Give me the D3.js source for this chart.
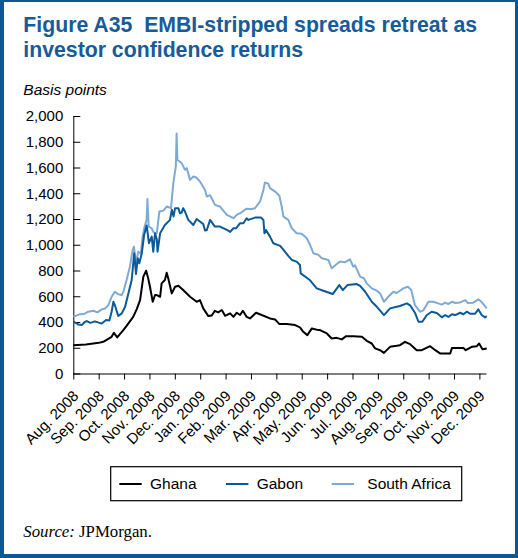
<!DOCTYPE html>
<html>
<head>
<meta charset="utf-8">
<script src="https://cdn.jsdelivr.net/npm/d3@7"></script>
<style>
  html, body { margin: 0; padding: 0; background: #fff; }
  svg { display: block; }
</style>
</head>
<body>
<svg id="chart" width="518" height="558"></svg>
<script>
// Month tick labels (Aug 2008 .. Dec 2009), one tick per month
const months = ["Aug. 2008","Sep. 2008","Oct. 2008","Nov. 2008","Dec. 2008","Jan. 2009",
  "Feb. 2009","Mar. 2009","Apr. 2009","May. 2009","Jun. 2009","Jul. 2009","Aug. 2009",
  "Sep. 2009","Oct. 2009","Nov. 2009","Dec. 2009"];

const yTicks = [0,200,400,600,800,1000,1200,1400,1600,1800,2000];

// Series: [months since Aug 2008, spread in basis points]
const ghana = [[0,220],[0.5,226],[1.0,238],[1.18,246],[1.51,285],[1.6,316],[1.73,280],[1.97,337],[2.1,370],
  [2.36,440],[2.5,500],[2.63,570],[2.76,752],[2.87,798],[2.95,740],[3.02,674],[3.13,557],[3.22,610],[3.29,609],
  [3.42,596],[3.48,700],[3.61,726],[3.68,783],[3.74,739],[3.88,622],[4.01,674],[4.14,682],[4.33,648],[4.6,596],
  [4.86,557],[4.99,570],[5.12,506],[5.32,446],[5.45,450],[5.58,487],[5.71,475],[5.85,493],[5.98,448],[6.18,467],
  [6.31,440],[6.44,472],[6.57,454],[6.68,487],[6.83,440],[6.96,428],[7.2,472],[7.42,454],[7.75,428],[7.95,420],
  [8.12,384],[8.41,384],[8.74,376],[8.93,358],[9.06,324],[9.22,298],[9.4,350],[9.66,337],[9.72,337],[9.99,311],
  [10.18,272],[10.38,277],[10.58,265],[10.75,290],[11.03,290],[11.37,285],[11.56,254],[11.76,233],[11.89,195],
  [12.09,181],[12.24,160],[12.48,207],[12.74,215],[12.87,220],[13.07,246],[13.27,228],[13.53,181],[13.73,181],
  [14.06,212],[14.26,181],[14.45,156],[14.85,156],[14.92,199],[15.37,199],[15.46,181],[15.7,207],[15.9,212],
  [15.99,233],[16.12,189],[16.29,195]];

const gabon = [[0,402],[0.13,390],[0.2,380],[0.33,376],[0.45,400],[0.53,407],[0.65,395],[0.73,397],[0.85,405],
  [1.0,395],[1.12,389],[1.29,415],[1.42,412],[1.51,480],[1.58,557],[1.64,530],[1.77,446],[1.91,467],[2.04,518],
  [2.17,622],[2.3,726],[2.4,934],[2.47,773],[2.54,895],[2.6,856],[2.7,934],[2.79,1076],[2.89,1150],[2.98,1012],
  [3.09,1063],[3.15,946],[3.22,1089],[3.29,1040],[3.32,946],[3.42,1089],[3.61,1154],[3.81,1193],[3.88,1271],
  [3.95,1220],[4.01,1284],[4.14,1284],[4.2,1245],[4.27,1250],[4.33,1284],[4.4,1258],[4.53,1193],[4.73,1154],
  [4.86,1200],[4.99,1180],[5.12,1160],[5.19,1110],[5.26,1115],[5.39,1193],[5.58,1141],[5.65,1141],[5.78,1141],
  [6.05,1115],[6.18,1100],[6.31,1128],[6.41,1128],[6.57,1167],[6.7,1167],[6.83,1206],[6.9,1193],[7.16,1211],
  [7.39,1211],[7.49,1193],[7.53,1089],[7.59,1115],[7.75,1063],[7.88,1012],[8.15,991],[8.28,960],[8.47,913],
  [8.61,882],[8.8,869],[8.93,843],[8.96,778],[9.33,724],[9.59,661],[9.85,643],[10.22,617],[10.48,687],[10.62,648],
  [10.8,687],[11.17,695],[11.3,680],[11.5,635],[11.76,557],[11.96,518],[12.24,454],[12.48,506],[12.74,518],
  [12.87,524],[13.14,545],[13.27,530],[13.46,472],[13.6,402],[13.75,402],[13.93,454],[14.12,480],[14.32,470],
  [14.52,436],[14.65,454],[14.78,440],[14.92,460],[15.05,454],[15.24,472],[15.37,460],[15.5,480],[15.63,465],
  [15.83,465],[15.96,498],[16.09,454],[16.22,436],[16.29,445]];

const southAfrica = [[0,440],[0.26,461],[0.45,465],[0.59,480],[0.79,487],[0.95,475],[1.12,498],[1.25,505],
  [1.38,531],[1.51,596],[1.64,635],[1.77,615],[1.91,609],[1.98,640],[2.1,726],[2.23,830],[2.34,960],[2.39,985],
  [2.47,856],[2.56,946],[2.66,930],[2.73,1063],[2.81,1141],[2.89,1193],[2.92,1355],[2.97,1141],[3.09,1128],
  [3.15,1100],[3.22,1089],[3.29,1089],[3.39,1258],[3.55,1265],[3.68,1297],[3.85,1284],[3.94,1479],[4.04,1608],
  [4.07,1865],[4.1,1660],[4.2,1645],[4.27,1634],[4.4,1582],[4.47,1595],[4.6,1504],[4.73,1530],[4.86,1520],
  [4.99,1491],[5.19,1426],[5.26,1374],[5.39,1385],[5.58,1310],[5.78,1297],[6.05,1232],[6.31,1206],[6.44,1232],
  [6.57,1245],[6.83,1280],[6.96,1275],[7.16,1284],[7.36,1336],[7.49,1426],[7.55,1483],[7.68,1475],[7.75,1440],
  [7.95,1413],[8.12,1380],[8.21,1297],[8.28,1219],[8.47,1193],[8.61,1128],[8.8,1089],[9.0,1085],[9.2,1050],
  [9.33,998],[9.46,934],[9.66,921],[9.79,895],[10.05,882],[10.18,817],[10.38,850],[10.51,869],[10.71,865],
  [10.9,887],[11.03,830],[11.1,840],[11.3,752],[11.45,740],[11.56,700],[11.76,661],[11.96,643],[12.09,622],
  [12.24,557],[12.41,596],[12.61,635],[12.74,625],[12.87,643],[13.0,661],[13.18,674],[13.31,650],[13.46,531],
  [13.66,480],[13.79,490],[13.99,557],[14.19,557],[14.38,545],[14.52,535],[14.65,550],[14.78,540],[14.92,557],
  [15.05,548],[15.24,552],[15.44,570],[15.55,548],[15.76,550],[15.96,576],[16.09,555],[16.29,506]];

const seriesNames = ["Ghana", "Gabon", "South Africa"];
const seriesColors = ["#000000", "#0a5a9a", "#7eaad3"];

const svg = d3.select("#chart");
const W = 518, H = 558;
const frameColor = "#0c5896";
const titleColor = "#175b98";
const sans = "'Liberation Sans', Arial, Helvetica, sans-serif";
const serif = "'Liberation Serif', 'Times New Roman', serif";

// Framed panel
svg.append("rect").attr("x", 0).attr("y", 0).attr("width", W).attr("height", H).attr("fill", frameColor);
svg.append("rect").attr("x", 4).attr("y", 2).attr("width", W - 7).attr("height", H - 6).attr("fill", "#fff");

// Title
const titleLines = ["Figure A35\u00a0\u00a0EMBI-stripped spreads retreat as", "investor confidence returns"];
const title = svg.append("g").attr("fill", titleColor).attr("font-family", sans)
  .attr("font-weight", "bold").attr("font-size", 18.6);
title.selectAll("text").data(titleLines).join("text")
  .attr("x", 23.3).attr("y", (d, i) => 31.7 + i * 25.3).text(d => d);
// fit the first line to its set width
const first = title.select("text").node();
const len = first.getComputedTextLength();
if (len > 0) title.attr("font-size", 18.6 * 454 / len);

// Unit label
svg.append("text").attr("x", 23.3).attr("y", 95).attr("font-family", sans)
  .attr("font-style", "italic").attr("font-size", 15.5).attr("fill", "#000").text("Basis points");

// Scales
const x = d3.scaleLinear().domain([0, 16.26]).range([73.3, 486]);
const y = d3.scaleLinear().domain([0, 2000]).range([373.5, 116]);

// Y axis (ticks point inward)
const yAxis = svg.append("g").attr("transform", `translate(${x(0)},0)`)
  .call(d3.axisLeft(y).tickValues(yTicks).tickSize(-7).tickSizeOuter(0).tickPadding(10)
    .tickFormat(d3.format(",")));
yAxis.selectAll("text").attr("font-family", sans).attr("font-size", 15).attr("fill", "#000");
yAxis.selectAll("line, path").attr("stroke", "#000");

// X axis with rotated month labels
const xAxis = svg.append("g").attr("transform", `translate(0,${y(0)})`)
  .call(d3.axisBottom(x).tickValues(d3.range(months.length)).tickSize(6).tickSizeOuter(0)
    .tickFormat(i => months[i]));
xAxis.selectAll("line, path").attr("stroke", "#000");
xAxis.selectAll("text")
  .attr("font-family", sans).attr("font-size", 15).attr("fill", "#000")
  .attr("text-anchor", "end").attr("x", -12.5).attr("y", 20.6).attr("dy", 0)
  .attr("transform", "rotate(-45)");

// Lines
const line = d3.line().x(d => x(d[0])).y(d => y(d[1]));
const seriesData = [ghana, gabon, southAfrica];
const drawOrder = [2, 1, 0];
svg.append("g").selectAll("path").data(drawOrder).join("path")
  .attr("d", i => line(seriesData[i]))
  .attr("fill", "none")
  .attr("stroke", i => seriesColors[i])
  .attr("stroke-width", 2)
  .attr("stroke-linejoin", "round");

// Legend
const legend = svg.append("g");
legend.append("rect").attr("x", 110.7).attr("y", 466.7).attr("width", 351).attr("height", 34)
  .attr("fill", "#fff").attr("stroke", "#000").attr("stroke-width", 1.2);
const legendX = [119.3, 226, 331.7];
const items = legend.selectAll("g.item").data(seriesNames).join("g").attr("class", "item")
  .attr("transform", (d, i) => `translate(${legendX[i]},0)`);
items.append("line").attr("x1", 0).attr("x2", 22.4).attr("y1", 484).attr("y2", 484)
  .attr("stroke", (d, i) => seriesColors[i]).attr("stroke-width", 2);
items.append("text").attr("x", (d, i) => i === 2 ? 35.6 : 30.7).attr("y", 489.3)
  .attr("font-family", sans).attr("font-size", 15.5).attr("fill", "#000").text(d => d);

// Source note
const src = svg.append("text").attr("x", 23.3).attr("y", 536.7)
  .attr("font-family", serif).attr("font-size", 16.8).attr("fill", "#000");
src.append("tspan").attr("font-style", "italic").text("Source:");
src.append("tspan").text(" JPMorgan.");
</script>
</body>
</html>
